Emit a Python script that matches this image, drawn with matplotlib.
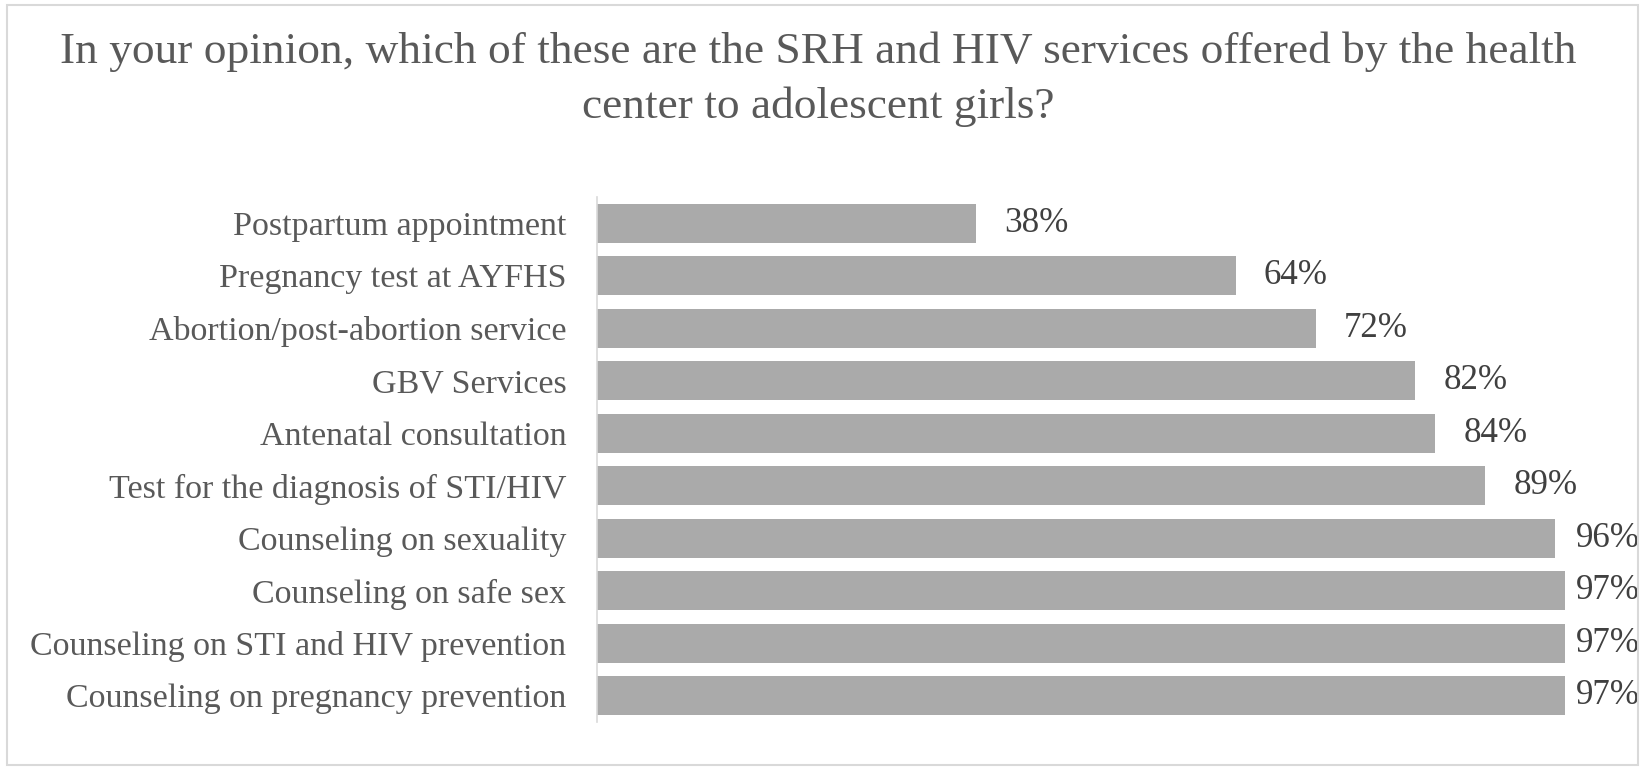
import matplotlib.pyplot as plt
from matplotlib.patches import Rectangle

# services, top to bottom as shown
services = [
    "Postpartum appointment",
    "Pregnancy test at AYFHS",
    "Abortion/post-abortion service",
    "GBV Services",
    "Antenatal consultation",
    "Test for the diagnosis of STI/HIV",
    "Counseling on sexuality",
    "Counseling on safe sex",
    "Counseling on STI and HIV prevention",
    "Counseling on pregnancy prevention",
]
pct = [38, 64, 72, 82, 84, 89, 96, 97, 97, 97]

title_lines = ["In your opinion, which of these are the SRH and HIV services offered by the health",
               "center to adolescent girls?"]

plt.rcParams['font.family'] = ['Liberation Serif', 'DejaVu Serif']

fig = plt.figure(figsize=(16.45, 7.68), dpi=100)
ax = fig.add_axes([597/1645, 46/768, 998/1645, 525/768])

y = list(range(len(services)))
ax.barh(y, pct, height=0.74, color='#aaaaaa')
ax.set_ylim(len(services) - 0.5, -0.5)
ax.set_xlim(0, 100)

for i, v in enumerate(pct):
    ax.text(min(v + 2.8, 98.1), i, f"{v}%", va='center', ha='left',
            fontsize=25.2, color='#404040', clip_on=False)

ax.set_yticks(y)
ax.set_yticklabels(services, fontsize=24.5, color='#595959')
ax.tick_params(axis='y', length=0, pad=22)
ax.set_xticks([])
for s in ['top', 'right', 'bottom']:
    ax.spines[s].set_visible(False)
ax.spines['left'].set_color('#d9d9d9')
ax.spines['left'].set_linewidth(1.2)

# title, two centred lines
for txt, base in zip(title_lines, [63, 118]):
    fig.text(0.4975, 1 - base/768, txt, ha='center', va='baseline', fontsize=32.7,
             color='#595959')

# chart border
fig.patches.append(Rectangle((7/1645, 3/768), 1631/1645, 760/768, transform=fig.transFigure,
                             fill=False, edgecolor='#d9d9d9', linewidth=1.5))

fig.savefig('out.png', dpi=100)
